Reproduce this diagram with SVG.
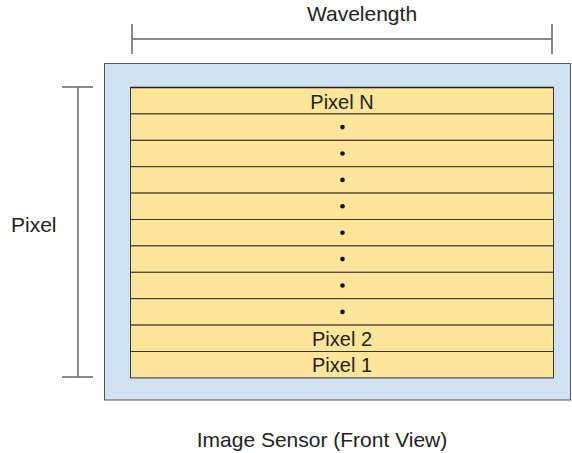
<svg xmlns="http://www.w3.org/2000/svg" width="572" height="453" viewBox="0 0 572 453">
<style>
text{font-family:"Liberation Sans",Arial,sans-serif;fill:#222;}
.lbl{font-size:21px;text-anchor:middle;}
.rl{font-size:20px;text-anchor:middle;}
.row{fill:#ffe599;stroke:#333;stroke-width:1;}
.br{stroke:#666;stroke-width:1.5;fill:none;}
.dot{fill:#111;}
</style>
<rect width="572" height="453" fill="#fff"/>
<g id="sensor">
<rect x="104.5" y="63.5" width="466" height="336.5" fill="#cfe2f3" stroke="#555" stroke-width="1"/>
</g>
<g id="rows">
<rect class="row" x="130.5" y="87.5" width="423" height="26.4"/>
<rect class="row" x="130.5" y="113.9" width="423" height="26.4"/>
<rect class="row" x="130.5" y="140.3" width="423" height="26.4"/>
<rect class="row" x="130.5" y="166.7" width="423" height="26.4"/>
<rect class="row" x="130.5" y="193.1" width="423" height="26.4"/>
<rect class="row" x="130.5" y="219.5" width="423" height="26.4"/>
<rect class="row" x="130.5" y="245.9" width="423" height="26.4"/>
<rect class="row" x="130.5" y="272.3" width="423" height="26.4"/>
<rect class="row" x="130.5" y="298.7" width="423" height="26.4"/>
<rect class="row" x="130.5" y="325.1" width="423" height="26.4"/>
<rect class="row" x="130.5" y="351.5" width="423" height="26.4"/>
<line x1="130.5" y1="87.5" x2="553.5" y2="87.5" stroke="#222" stroke-width="1.5"/>
<text class="rl" x="342" y="109">Pixel N</text>
<circle class="dot" cx="342.5" cy="127.1" r="2.3"/>
<circle class="dot" cx="342.5" cy="153.5" r="2.3"/>
<circle class="dot" cx="342.5" cy="179.9" r="2.3"/>
<circle class="dot" cx="342.5" cy="206.3" r="2.3"/>
<circle class="dot" cx="342.5" cy="232.7" r="2.3"/>
<circle class="dot" cx="342.5" cy="259.1" r="2.3"/>
<circle class="dot" cx="342.5" cy="285.5" r="2.3"/>
<circle class="dot" cx="342.5" cy="311.9" r="2.3"/>
<text class="rl" x="342" y="345.5">Pixel 2</text>
<text class="rl" x="342" y="371.5">Pixel 1</text>
</g>
<g id="connectors">
<path class="br" d="M132 39H552M132 24V54M552 24V54"/>
<path class="br" d="M78 87V377M62 87H93M62 377H93"/>
</g>
<g id="labels">
<text class="lbl" x="362" y="21">Wavelength</text>
<text x="11" y="232" style="font-size:21px">Pixel</text>
<text class="lbl" x="322" y="446.5">Image Sensor (Front View)</text>
</g>
</svg>
